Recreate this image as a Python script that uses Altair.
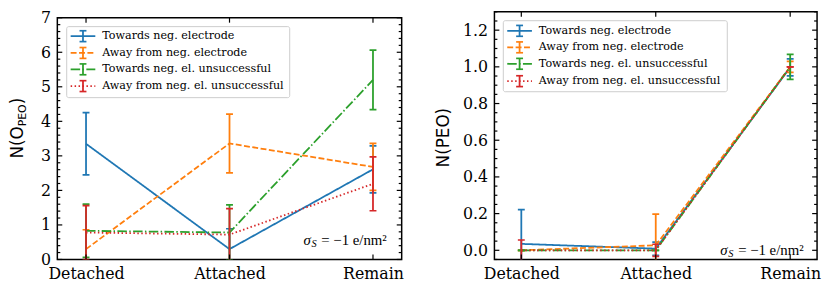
import altair as alt
import pandas as pd

# ---------------- data ----------------
cats = ["Detached", "Attached", "Remain"]
series = ["Towards neg. electrode", "Away from neg. electrode",
          "Towards neg. el. unsuccessful", "Away from neg. el. unsuccessful"]
colors = ["#1f77b4", "#ff7f0e", "#2ca02c", "#d62728"]
dashes = [[1, 0], [6, 2.5], [9.6, 2.4, 1.5, 2.4], [1.5, 2.5]]

# left panel: N(O_PEO)
o_mean = [[3.35, 0.30, 2.61],
          [0.30, 3.36, 2.68],
          [0.83, 0.78, 5.20],
          [0.78, 0.72, 2.19]]
o_err = [[0.90, 0.59, 0.68],
         [0.56, 0.85, 0.68],
         [0.77, 0.80, 0.86],
         [0.78, 0.75, 0.78]]

# right panel: N(PEO)
p_mean = [[0.035, 0.009, 0.997],
          [0.0, 0.027, 1.0],
          [0.0, 0.0, 1.0],
          [0.0, 0.0, 1.0]]
p_err = [[0.187, 0.036, 0.046],
         [0.0, 0.170, 0.030],
         [0.0, 0.0, 0.068],
         [0.056, 0.033, 0.0]]

left_domain = [0, 7]
left_major = [0, 1, 2, 3, 4, 5, 6, 7]
left_minor = [round(m + f, 2) for m in range(7) for f in (0.2, 0.4, 0.6, 0.8)]
right_domain = [-0.05, 1.3]
right_major = [0.0, 0.2, 0.4, 0.6, 0.8, 1.0, 1.2]
right_minor = [round(-0.05 + 0.05 * k, 2) for k in range(28)]
right_minor = [v for v in right_minor if abs(v / 0.2 - round(v / 0.2)) > 1e-6]

annotation = ["σ", "S", "= −1 e/nm²"]

SERIF = "DejaVu Serif"
SANS = "DejaVu Sans"
LW = 1.8


def panel(means, errs, ydom, major, minor, fmt, W, H, title_parts, legend_rows,
          legend_box, ann_pos):
    ysc = alt.Scale(domain=ydom, nice=False, zero=False)
    xsc = alt.Scale(type="point", domain=cats, padding=0.2)
    xax = alt.Axis(labelFont=SERIF, labelFontSize=16, labelColor="black",
                   labelAngle=0, labelPadding=6, ticks=False, tickSize=0,
                   domain=False, grid=False, title=None)
    yax = alt.Axis(labelFont=SERIF, labelFontSize=16, labelColor="black",
                   labelPadding=7, ticks=False, tickSize=0, domain=False,
                   grid=False, values=major, format=fmt, title=None)

    def X():
        return alt.X("cat:N", scale=xsc, sort=cats, title=None, axis=xax)

    def Y(f):
        return alt.Y(f, scale=ysc, title=None, axis=yax)

    layers = []
    for i, name in enumerate(series):
        df = pd.DataFrame({
            "cat": cats,
            "idx": [0, 1, 2],
            "mean": means[i],
            "lo": [m - e for m, e in zip(means[i], errs[i])],
            "hi": [m + e for m, e in zip(means[i], errs[i])],
        })
        line = alt.Chart(df).mark_line(color=colors[i], strokeWidth=LW,
                                       strokeDash=dashes[i], clip=True).encode(
            x=X(), y=Y("mean:Q"), order=alt.Order("idx:Q"))
        bars = alt.Chart(df).mark_rule(color=colors[i], strokeWidth=LW, clip=True).encode(
            x=X(), y=Y("lo:Q"), y2="hi:Q")
        cap_lo = alt.Chart(df).mark_tick(color=colors[i], thickness=1.7, size=7,
                                         orient="horizontal", clip=True, opacity=1).encode(
            x=X(), y=Y("lo:Q"))
        cap_hi = alt.Chart(df).mark_tick(color=colors[i], thickness=1.7, size=7,
                                         orient="horizontal", clip=True, opacity=1).encode(
            x=X(), y=Y("hi:Q"))
        layers += [line, bars, cap_lo, cap_hi]

    # inward ticks
    maj = pd.DataFrame({"v": major})
    mnr = pd.DataFrame({"v": minor})
    cdf = pd.DataFrame({"cat": cats})
    for d, ln in ((maj, 5), (mnr, 3)):
        layers.append(alt.Chart(d).mark_rule(color="black", strokeWidth=1.2).encode(
            y=Y("v:Q"), x=alt.value(0), x2=alt.value(ln)))
        layers.append(alt.Chart(d).mark_rule(color="black", strokeWidth=1.2).encode(
            y=Y("v:Q"), x=alt.value(W - ln), x2=alt.value(W)))
    layers.append(alt.Chart(cdf).mark_rule(color="black", strokeWidth=1.2).encode(
        x=X(), y=alt.value(0), y2=alt.value(5)))
    layers.append(alt.Chart(cdf).mark_rule(color="black", strokeWidth=1.2).encode(
        x=X(), y=alt.value(H - 5), y2=alt.value(H)))

    # legend
    bx0, bx1, by0, by1 = legend_box
    one = pd.DataFrame({"a": [0]})
    layers.append(alt.Chart(one).mark_rect(fill="white", fillOpacity=0.8, stroke="#cccccc",
                                           strokeWidth=1, cornerRadius=2).encode(
        x=alt.value(bx0), x2=alt.value(bx1), y=alt.value(by0), y2=alt.value(by1)))
    for i, name in enumerate(series):
        ry = legend_rows[i]
        ld = pd.DataFrame({"label": [name]})
        layers.append(alt.Chart(ld).mark_rule(color=colors[i], strokeWidth=LW,
                                              strokeDash=dashes[i]).encode(
            x=alt.value(bx0 + 4), x2=alt.value(bx0 + 29), y=alt.value(ry)))
        layers.append(alt.Chart(ld).mark_rule(color=colors[i], strokeWidth=LW).encode(
            x=alt.value(bx0 + 16.5), y=alt.value(ry - 5.5), y2=alt.value(ry + 5.5)))
        for cy in (ry - 5.5, ry + 5.5):
            layers.append(alt.Chart(ld).mark_rule(color=colors[i], strokeWidth=1.7).encode(
                x=alt.value(bx0 + 13), x2=alt.value(bx0 + 20), y=alt.value(cy)))
        layers.append(alt.Chart(ld).mark_text(align="left", baseline="middle", font=SERIF,
                                              fontSize=11.3, color="black").encode(
            x=alt.value(bx0 + 36), y=alt.value(ry), text="label:N"))

    # annotation sigma_S = -1 e/nm^2
    ax, ay = ann_pos
    ad = pd.DataFrame({"t": annotation})
    layers.append(alt.Chart(ad.iloc[[0]]).mark_text(align="left", baseline="middle",
                                                    font="Liberation Serif", fontStyle="italic",
                                                    fontSize=15, color="black").encode(
        x=alt.value(ax), y=alt.value(ay), text="t:N"))
    layers.append(alt.Chart(ad.iloc[[1]]).mark_text(align="left", baseline="middle",
                                                    font="Liberation Serif", fontStyle="italic",
                                                    fontSize=10.5, color="black", dy=4).encode(
        x=alt.value(ax + 8), y=alt.value(ay), text="t:N"))
    layers.append(alt.Chart(ad.iloc[[2]]).mark_text(align="left", baseline="middle",
                                                    font="Liberation Serif",
                                                    fontSize=15, color="black").encode(
        x=alt.value(ax + 18), y=alt.value(ay), text="t:N"))

    # y title pieces (rotated)
    for txt, tx, ty, fs in title_parts:
        td = pd.DataFrame({"t": [txt]})
        layers.append(alt.Chart(td).mark_text(angle=270, align="center", baseline="alphabetic",
                                              font=SANS, fontSize=fs, color="black").encode(
            x=alt.value(tx), y=alt.value(ty), text="t:N"))

    return alt.layer(*layers).properties(width=W, height=H)


H1, H2 = 245, 251
W1, W2 = 349, 327
S = 6  # left panel sits a little lower than the right one

left = panel(o_mean, o_err, left_domain, left_major, left_minor, "d", W1, H1,
             [("N(O", -35, H1 - 118.7, 17), ("PEO", -31.5, H1 - 146.1, 11),
              (")", -35, H1 - 160.5, 17)],
             [18.7, 35.7, 52.3, 69.3], (9.5, 235.5, 9, 81), (249.5, H1 - 19.3))
right = panel(p_mean, p_err, right_domain, right_major, right_minor, ".1f", W2, H2,
              [("N(PEO)", -45.7, H2 - 123.5, 17)],
              [19.3, 36, 52.7, 70.3], (9, 236, 9, 81), (229, H2 - 10))

spacer = alt.Chart(pd.DataFrame({"a": [0]})).mark_rule(opacity=0).encode(
    x=alt.value(0), y=alt.value(0)
).properties(width=W1, height=S, view=alt.ViewBackground(stroke="transparent"))

left_col = alt.vconcat(spacer, left, spacing=0, bounds="flush")

chart = alt.hconcat(left_col, right, spacing=30).properties(
    padding={"left": 0, "top": -1, "right": 0, "bottom": 0}
).configure_view(stroke="black", strokeWidth=1.5)

chart.save("out.html", embed_options={"renderer": "svg", "actions": False})
